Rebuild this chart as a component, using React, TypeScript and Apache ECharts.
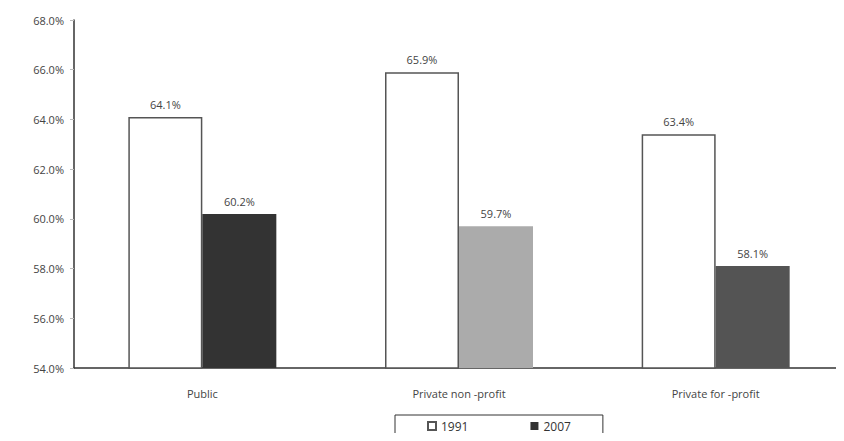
import React, { useEffect, useRef } from "react";
import * as echarts from "echarts";

const categories = ["Public", "Private non -profit", "Private for -profit"];
const values1991 = [64.1, 65.9, 63.4];
const values2007 = [60.2, 59.7, 58.1];
const colors2007 = ["#333333", "#ababab", "#545454"];
const seriesNames = ["1991", "2007"];

export default function App() {
  const ref = useRef<HTMLDivElement>(null);

  useEffect(() => {
    if (!ref.current) return;
    const chart = echarts.init(ref.current, undefined, { renderer: "svg" });
    const font = "'Open Sans', 'DejaVu Sans', sans-serif";
    const labelStyle = {
      show: true,
      position: "top" as const,
      distance: 7,
      color: "#444",
      fontSize: 11,
      fontFamily: font,
      formatter: (p: any) => `${Number(p.value).toFixed(1)}%`,
    };
    chart.setOption({
      animation: false,
      backgroundColor: "#fff",
      grid: { left: 74, right: 0, top: 20, bottom: 73, containLabel: false },
      legend: {
        data: seriesNames,
        left: 395,
        top: 415,
        width: 208,
        itemWidth: 8,
        itemHeight: 8,
        itemGap: 62,
        padding: [5, 32, 16, 32],
        borderColor: "#333",
        borderWidth: 1,
        icon: "rect",
        textStyle: { color: "#333", fontSize: 12, fontFamily: font },
      },
      xAxis: {
        type: "category",
        data: categories,
        axisLine: { lineStyle: { color: "#333", width: 1.5 } },
        axisTick: { show: false },
        axisLabel: { color: "#444", fontSize: 11, fontFamily: font, margin: 20 },
      },
      yAxis: {
        type: "value",
        min: 54,
        max: 68,
        interval: 2,
        splitLine: { show: false },
        axisLine: { show: true, lineStyle: { color: "#333", width: 1.5 } },
        axisTick: { show: true, length: 4, lineStyle: { color: "#bbb" } },
        axisLabel: {
          color: "#444",
          fontSize: 11,
          fontFamily: font,
          margin: 10,
          formatter: (v: number) => `${v.toFixed(1)}%`,
        },
      },
      series: [
        {
          name: seriesNames[0],
          type: "bar",
          data: values1991,
          barWidth: 74,
          barGap: "0%",
          itemStyle: { color: "#ffffff", borderColor: "#555", borderWidth: 1.5 },
          label: labelStyle,
        },
        {
          name: seriesNames[1],
          type: "bar",
          data: values2007.map((v, i) => ({ value: v, itemStyle: { color: colors2007[i] } })),
          barWidth: 74,
          itemStyle: { color: "#333333" },
          label: labelStyle,
        },
      ],
    });
    return () => chart.dispose();
  }, []);

  return <div ref={ref} style={{ width: 844, height: 441, margin: -8 }} />;
}
